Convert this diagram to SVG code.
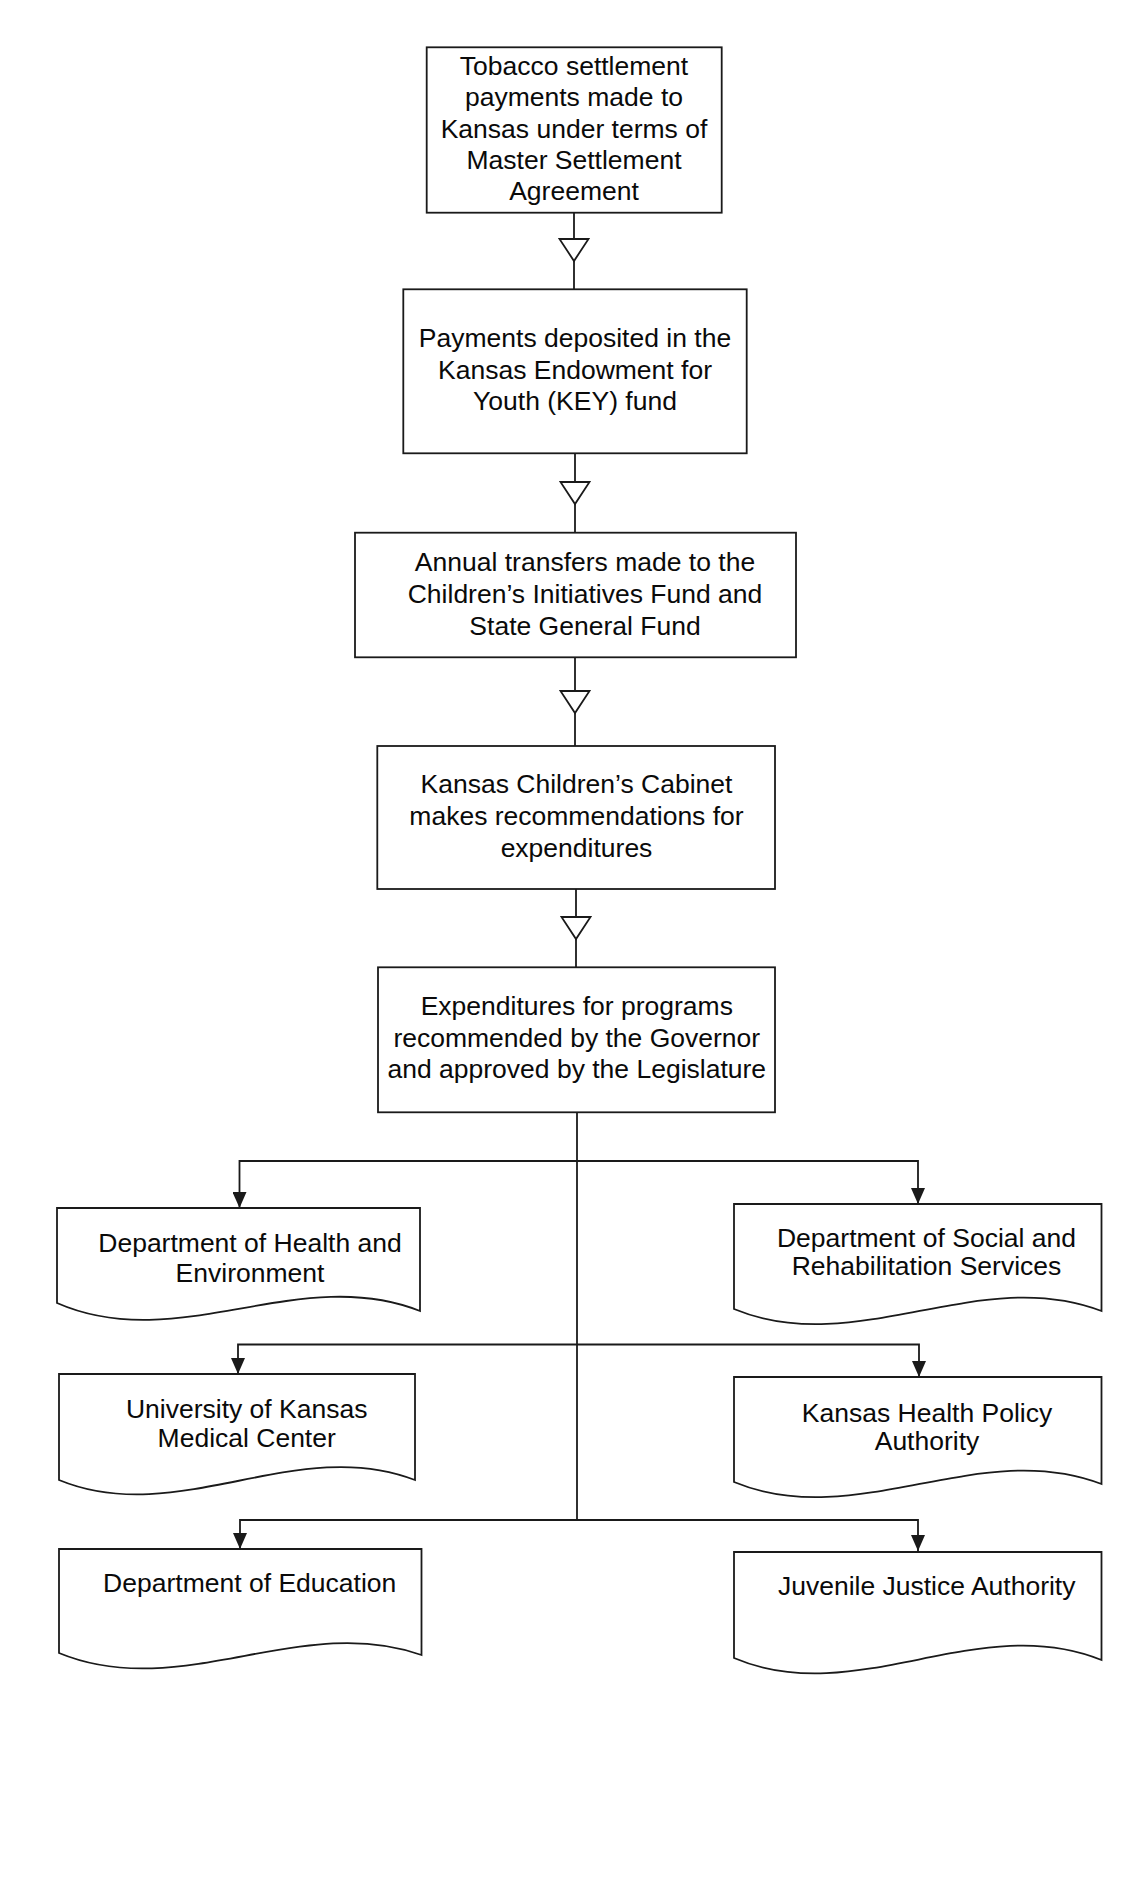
<svg xmlns="http://www.w3.org/2000/svg" width="1143" height="1881" viewBox="0 0 1143 1881">
<style>
.box{fill:#fff;stroke:#1a1a1a;stroke-width:1.8}
.doc{fill:#fff;stroke:#1a1a1a;stroke-width:1.8}
.ln{fill:none;stroke:#1a1a1a;stroke-width:1.8}
.tri{fill:#fff;stroke:#1a1a1a;stroke-width:1.8}
text{font-family:"Liberation Sans",Arial,sans-serif;font-size:26.5px;fill:#0a0a0a;text-anchor:middle}
</style>
<defs>
<marker id="ahd" markerUnits="userSpaceOnUse" markerWidth="14" markerHeight="16" viewBox="0 0 14 16" refX="7" refY="16" orient="0">
<path d="M0,0 L14,0 L7,16 Z" fill="#1a1a1a"/>
</marker>
</defs>
<rect width="1143" height="1881" fill="#fff"/>
<g id="connectors">
<path class="ln" d="M574,213 V289"/>
<polygon class="tri" points="559.5,239 588.5,239 574,261"/>
<path class="ln" d="M575,453 V532"/>
<polygon class="tri" points="560.5,482 589.5,482 575,504"/>
<path class="ln" d="M575,657 V746"/>
<polygon class="tri" points="560.5,691 589.5,691 575,713"/>
<path class="ln" d="M576,889 V967"/>
<polygon class="tri" points="561.5,917 590.5,917 576,939"/>
<path class="ln" d="M577,1112 V1520"/>
<path class="ln" d="M577,1161 H239.5 V1208" marker-end="url(#ahd)"/>
<path class="ln" d="M577,1161 H918 V1204" marker-end="url(#ahd)"/>
<path class="ln" d="M577,1344.5 H238 V1374" marker-end="url(#ahd)"/>
<path class="ln" d="M577,1344.5 H919 V1377" marker-end="url(#ahd)"/>
<path class="ln" d="M577,1520 H240 V1549" marker-end="url(#ahd)"/>
<path class="ln" d="M577,1520 H918 V1551" marker-end="url(#ahd)"/>
</g>
<g id="n1">
<rect class="box" x="426.7" y="47.3" width="295" height="165.4"/>
<text x="574" y="75">Tobacco settlement</text>
<text x="574" y="106.3">payments made to</text>
<text x="574" y="137.5">Kansas under terms of</text>
<text x="574" y="168.8">Master Settlement</text>
<text x="574" y="200">Agreement</text>
</g>
<g id="n2">
<rect class="box" x="403.3" y="289.3" width="343.4" height="164"/>
<text x="575" y="347.3">Payments deposited in the</text>
<text x="575" y="378.5">Kansas Endowment for</text>
<text x="575" y="409.8">Youth (KEY) fund</text>
</g>
<g id="n3">
<rect class="box" x="355" y="532.7" width="441" height="124.6"/>
<text x="585" y="570.5">Annual transfers made to the</text>
<text x="585" y="602.5">Children’s Initiatives Fund and</text>
<text x="585" y="634.5">State General Fund</text>
</g>
<g id="n4">
<rect class="box" x="377.3" y="746" width="397.7" height="143"/>
<text x="576.5" y="793.3">Kansas Children’s Cabinet</text>
<text x="576.5" y="825">makes recommendations for</text>
<text x="576.5" y="856.7">expenditures</text>
</g>
<g id="n5">
<rect class="box" x="378" y="967.3" width="397" height="145"/>
<text x="576.8" y="1015">Expenditures for programs</text>
<text x="576.8" y="1046.7">recommended by the Governor</text>
<text x="576.8" y="1078.3">and approved by the Legislature</text>
</g>
<g id="n6">
<path class="doc" d="M57,1208 H420 V1311 C299,1263 178,1356 57,1303 Z"/>
<text x="250" y="1251.7">Department of Health and</text>
<text x="250" y="1281.7">Environment</text>
</g>
<g id="n7">
<path class="doc" d="M734,1204 H1101.5 V1311 C979,1264 856,1359.5 734,1309 Z"/>
<text x="926.5" y="1246.7">Department of Social and</text>
<text x="926.5" y="1275">Rehabilitation Services</text>
</g>
<g id="n8">
<path class="doc" d="M59,1374 H415 V1480 C296,1434 178,1529 59,1480 Z"/>
<text x="246.7" y="1417.7">University of Kansas</text>
<text x="246.7" y="1446.7">Medical Center</text>
</g>
<g id="n9">
<path class="doc" d="M734,1377 H1101.5 V1484 C979,1437 856,1532.5 734,1482 Z"/>
<text x="927" y="1421.7">Kansas Health Policy</text>
<text x="927" y="1450">Authority</text>
</g>
<g id="n10">
<path class="doc" d="M59,1549 H421.5 V1655 C300.5,1612 180,1703 59,1653 Z"/>
<text x="249.7" y="1591.7">Department of Education</text>
</g>
<g id="n11">
<path class="doc" d="M734,1552 H1101.5 V1660 C979,1610 856,1710 734,1658 Z"/>
<text x="926.7" y="1595">Juvenile Justice Authority</text>
</g>
</svg>
